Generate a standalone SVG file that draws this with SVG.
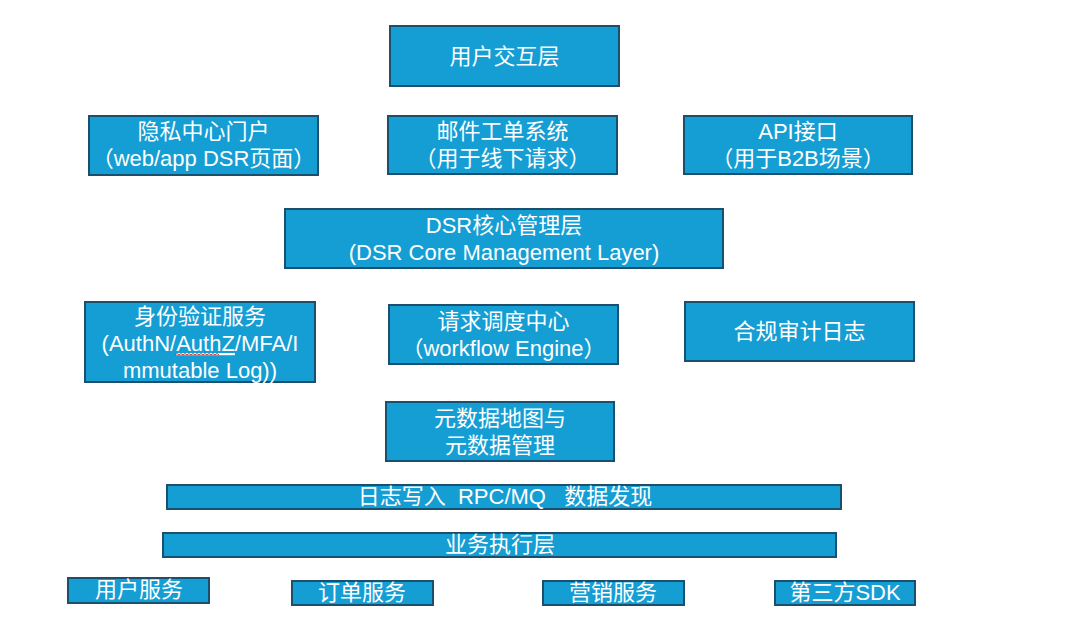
<svg xmlns="http://www.w3.org/2000/svg" width="1080" height="639" viewBox="0 0 1080 639">
<style>
.box{fill:#149ED4;stroke:#1B4F6E;stroke-width:2}
.t{fill:#FFFFFF;font-family:"Liberation Sans","Noto Sans CJK SC",sans-serif;font-size:22px;text-anchor:middle}
.b{font-size:22px}
</style>
<rect width="1080" height="639" fill="#FFFFFF"/>
<g id="connectors"></g>
<g id="n-user-layer"><rect class="box" x="390" y="26" width="229" height="60"/><text class="t" x="504.5" y="64">用户交互层</text></g>
<g id="n-privacy"><rect class="box" x="89" y="116" width="229" height="59"/><text class="t" x="203.5" y="139">隐私中心门户</text><text class="t" x="203.5" y="166">（web/app DSR页面）</text></g>
<g id="n-mail"><rect class="box" x="388" y="116" width="229" height="58"/><text class="t" x="502.5" y="139">邮件工单系统</text><text class="t" x="502.5" y="166">（用于线下请求）</text></g>
<g id="n-api"><rect class="box" x="684" y="116" width="228" height="58"/><text class="t" x="798" y="139">API接口</text><text class="t" x="798" y="166">（用于B2B场景）</text></g>
<g id="n-dsr-core"><rect class="box" x="285" y="209" width="438" height="59"/><text class="t" x="504" y="233">DSR核心管理层</text><text class="t" x="504" y="260">(DSR Core Management Layer)</text></g>
<g id="n-auth"><rect class="box" x="85" y="302" width="230" height="80"/><text class="t" x="200" y="324">身份验证服务</text><text class="t" x="200" y="351">(AuthN/<tspan text-decoration="underline">AuthZ</tspan>/MFA/I</text><text class="t" x="200" y="378">mmutable Log))</text><path d="M175 355 l2 -1.5 l2 1.5 l2 -1.5 l2 1.5 l2 -1.5 l2 1.5 l2 -1.5 l2 1.5 l2 -1.5 l2 1.5 l2 -1.5 l2 1.5 l2 -1.5 l2 1.5 l2 -1.5 l2 1.5 l2 -1.5 l2 1.5 l2 -1.5 l2 1.5 l2 -1.5 l2 1.5" fill="none" stroke="#D03030" stroke-width="1"/></g>
<g id="n-dispatch"><rect class="box" x="389" y="305" width="229" height="59"/><text class="t" x="503.5" y="329">请求调度中心</text><text class="t" x="503.5" y="356">（workflow Engine）</text></g>
<g id="n-audit"><rect class="box" x="685" y="302" width="229" height="59"/><text class="t" x="799.5" y="339">合规审计日志</text></g>
<g id="n-metadata"><rect class="box" x="386" y="402" width="228" height="59"/><text class="t" x="500" y="426">元数据地图与</text><text class="t" x="500" y="453">元数据管理</text></g>
<g id="n-bus"><rect class="box" x="167" y="485" width="674" height="24"/><text class="t b" x="505" y="504" xml:space="preserve">日志写入  RPC/MQ   数据发现</text></g>
<g id="n-exec"><rect class="box" x="163" y="533" width="673" height="24"/><text class="t b" x="500" y="552">业务执行层</text></g>
<g id="n-svc-user"><rect class="box" x="68" y="578" width="141" height="25"/><text class="t b" x="139" y="597">用户服务</text></g>
<g id="n-svc-order"><rect class="box" x="292" y="581" width="141" height="24"/><text class="t b" x="362" y="600">订单服务</text></g>
<g id="n-svc-mkt"><rect class="box" x="543" y="581" width="141" height="24"/><text class="t b" x="613" y="600">营销服务</text></g>
<g id="n-svc-sdk"><rect class="box" x="775" y="581" width="140" height="24"/><text class="t b" x="845" y="600">第三方SDK</text></g>
</svg>
